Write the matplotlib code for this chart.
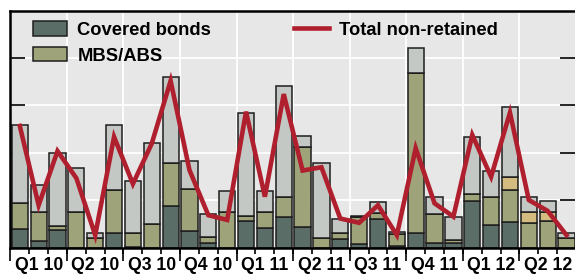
import matplotlib.pyplot as plt
import numpy as np

# monthly issuance, Jan 2010 - Jun 2012
months = list(range(30))
covered = [0.40, 0.13, 0.36, 0.00, 0.00, 0.31, 0.02, 0.00, 0.87, 0.35,
           0.09, 0.00, 0.56, 0.42, 0.65, 0.44, 0.00, 0.18, 0.07, 0.60,
           0.03, 0.30, 0.10, 0.09, 0.98, 0.47, 0.54, 0.00, 0.00, 0.00]
mbs_abs = [0.54, 0.62, 0.09, 0.74, 0.19, 0.91, 0.28, 0.50, 0.91, 0.88,
           0.14, 0.75, 0.11, 0.32, 0.41, 1.67, 0.21, 0.12, 0.57, 0.13,
           0.25, 3.37, 0.60, 0.07, 0.14, 0.60, 0.68, 0.51, 0.56, 0.19]
other = [0.00, 0.00, 0.00, 0.00, 0.00, 0.00, 0.00, 0.00, 0.00, 0.00,
         0.00, 0.00, 0.00, 0.00, 0.00, 0.00, 0.00, 0.00, 0.00, 0.00,
         0.00, 0.00, 0.00, 0.00, 0.00, 0.00, 0.27, 0.23, 0.19, 0.00]
retained = [1.64, 0.56, 1.55, 0.94, 0.11, 1.35, 1.11, 1.71, 1.80, 0.59,
            0.47, 0.43, 2.17, 0.44, 2.35, 0.24, 1.57, 0.31, 0.02, 0.22,
            0.05, 0.54, 0.36, 0.49, 1.21, 0.55, 1.47, 0.32, 0.22, 0.11]
non_retained = [2.56, 0.89, 2.03, 1.46, 0.26, 2.33, 1.34, 2.19, 3.51, 1.63,
                0.68, 0.58, 2.86, 1.07, 3.23, 1.62, 1.69, 0.61, 0.52, 0.89,
                0.26, 2.09, 0.93, 0.65, 2.37, 1.49, 2.84, 1.00, 0.77, 0.26]
quarter_labels = ["Q1 10", "Q2 10", "Q3 10", "Q4 10", "Q1 11",
                  "Q2 11", "Q3 11", "Q4 11", "Q1 12", "Q2 12"]

plt.rcParams['font.family'] = ['Liberation Sans', 'DejaVu Sans']
plt.rcParams['font.weight'] = 'bold'

c_cov = "#5a6d66"
c_mbs = "#9ea37a"
c_oth = "#d4bc80"
c_ret = "#c3c8c4"
c_red = "#b01f2e"
edge = "#1e1e1e"

fig = plt.figure(figsize=(5.75, 2.75), dpi=100)
ax = fig.add_axes([10 / 575, 27.5 / 275, 565 / 575, 236.5 / 275])
ax.set_facecolor("#e7e7e7")
ax.set_axisbelow(True)

x = np.array(months)
w = 0.86
bottom = np.zeros(30)
for vals, col, lab in [(covered, c_cov, "Covered bonds"),
                       (mbs_abs, c_mbs, "MBS/ABS"),
                       (other, c_oth, None),
                       (retained, c_ret, None)]:
    ax.bar(x, vals, w, bottom=bottom, color=col, edgecolor=edge,
           linewidth=1.1, label=lab)
    bottom += np.array(vals)

ax.plot(x, non_retained, color=c_red, lw=3.3, label="Total non-retained",
        solid_joinstyle="miter", zorder=5)

ax.set_xlim(-0.52, 29.45)
ax.set_ylim(0, 4.98)

# grid
ax.set_yticks([1, 2, 3, 4])
ax.yaxis.grid(True, color="white", lw=1.3)
for q in np.arange(2.5, 29, 3):
    ax.axvline(q, color="white", lw=1.3, zorder=0.5)
ax.tick_params(axis="y", direction="in", length=11, width=1.2, color="black",
               left=True, right=True, labelleft=False)

# x ticks: labels in the middle of quarters, short ticks at months
ax.set_xticks(np.arange(1, 30, 3))
ax.set_xticklabels(quarter_labels, fontsize=12.7, fontweight="bold")
ax.tick_params(axis="x", which="major", length=0, pad=7)
ax.set_xticks(np.arange(0.5, 29, 1), minor=True)
ax.tick_params(axis="x", which="minor", length=4, width=1.2, color="black")
sec = ax.secondary_xaxis("bottom")
sec.set_xticks(np.arange(-0.5, 29.6, 3))
sec.set_xticklabels([])
sec.tick_params(length=9, width=1.2, color="black")
sec.spines["bottom"].set_visible(False)

for s in ["left", "top", "bottom"]:
    ax.spines[s].set_linewidth(1.8)
    ax.spines[s].set_color("black")
ax.spines["right"].set_visible(False)

h, l = ax.get_legend_handles_labels()
order = [l.index("Covered bonds"), l.index("MBS/ABS"), l.index("Total non-retained")]
ax.legend([h[i] for i in order], [l[i] for i in order], ncol=2, frameon=False,
          loc="upper left", bbox_to_anchor=(0.014, 1.02), fontsize=13.2,
          handlelength=1.9, handleheight=0.85, handletextpad=0.55,
          columnspacing=4.5, labelspacing=0.45, borderpad=0.3)

fig.savefig("out.png", dpi=100)
